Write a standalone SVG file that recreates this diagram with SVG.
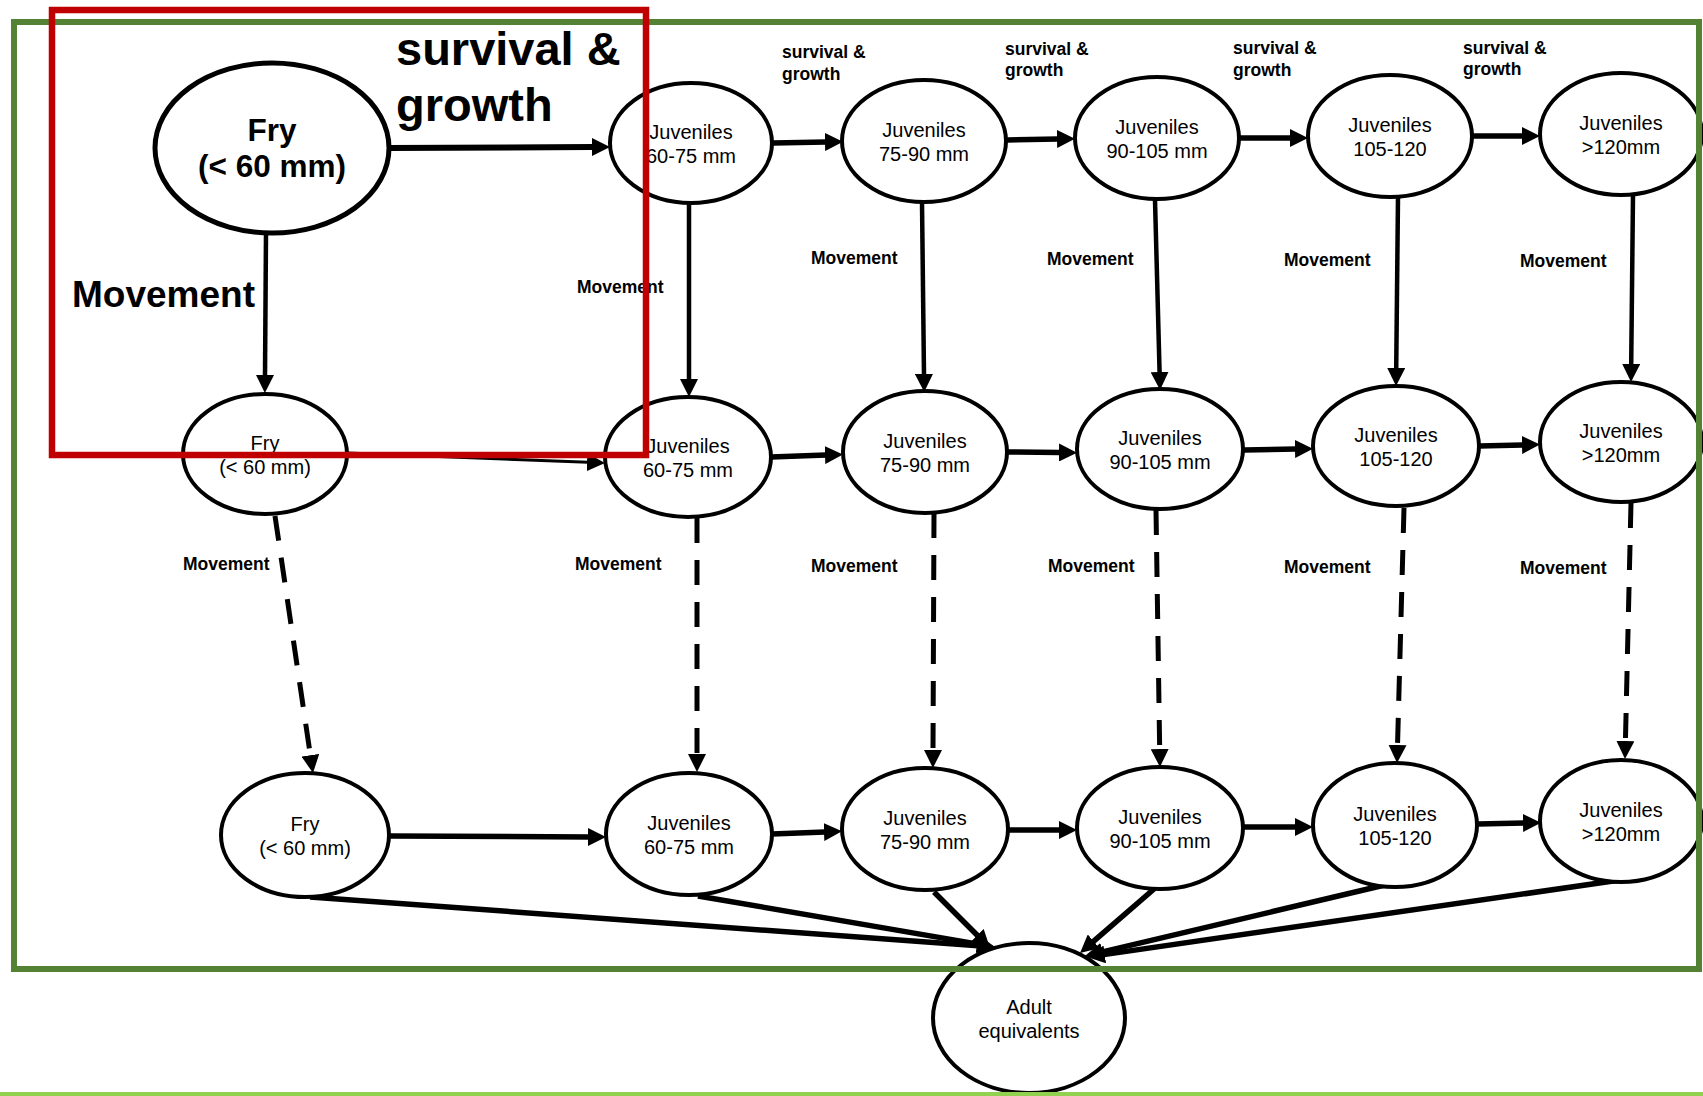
<svg xmlns="http://www.w3.org/2000/svg" width="1703" height="1096" viewBox="0 0 1703 1096">
<style>
  .node ellipse { fill: #fff; stroke: #000; stroke-width: 4; }
  .node text { font-family: "Liberation Sans", Arial, sans-serif; font-size: 20px; text-anchor: middle; fill: #000; }
  .lbl { font-family: "Liberation Sans", Arial, sans-serif; font-weight: bold; font-size: 17.5px; fill: #000; }
  .big { font-family: "Liberation Sans", Arial, sans-serif; font-weight: bold; fill: #000; }
  #connectors line { stroke: #000; fill: none; marker-end: url(#ah); }
  .flow { stroke-width: 5.5; }
  .wide { stroke-width: 6; }
  .thin { stroke-width: 3; }
  .move { stroke-width: 4.5; }
  .dash { stroke-width: 5; stroke-dasharray: 25 17; }
  .frame { fill: none; }
</style>
<defs>
  <marker id="ah" viewBox="0 0 18 18" refX="1" refY="9" markerWidth="18" markerHeight="18" markerUnits="userSpaceOnUse" orient="auto">
    <path d="M0,0 L18,9 L0,18 Z" fill="#000"/>
  </marker>
</defs>
<rect width="1703" height="1096" fill="#fff"/>

<!-- arrows between life stages -->
<g id="connectors">
  <!-- survival & growth, top row -->
  <line class="wide" x1="388" y1="148" x2="593" y2="147"/>
  <line class="flow" x1="773" y1="143" x2="826" y2="142"/>
  <line class="flow" x1="1007" y1="140" x2="1058" y2="139"/>
  <line class="flow" x1="1240" y1="138" x2="1291" y2="138"/>
  <line class="flow" x1="1473" y1="136" x2="1523" y2="136"/>
  <!-- survival & growth, middle row -->
  <line class="thin" x1="347" y1="453" x2="588" y2="462.3"/>
  <line class="flow" x1="771" y1="457" x2="826" y2="455"/>
  <line class="flow" x1="1008" y1="452" x2="1060" y2="452.5"/>
  <line class="flow" x1="1244" y1="450" x2="1296" y2="449"/>
  <line class="flow" x1="1479" y1="446" x2="1523" y2="445"/>
  <!-- survival & growth, bottom row -->
  <line class="flow" x1="389" y1="836" x2="589" y2="837"/>
  <line class="flow" x1="772" y1="834" x2="825" y2="832"/>
  <line class="flow" x1="1008" y1="830" x2="1060" y2="830"/>
  <line class="flow" x1="1243" y1="827" x2="1296" y2="827"/>
  <line class="flow" x1="1478" y1="824" x2="1524" y2="823"/>
  <!-- movement, top to middle -->
  <line class="move" x1="266" y1="233" x2="265" y2="376"/>
  <line class="move" x1="689" y1="203" x2="689" y2="380"/>
  <line class="move" x1="922" y1="202" x2="924" y2="375"/>
  <line class="move" x1="1155" y1="200" x2="1159.6" y2="373"/>
  <line class="move" x1="1398" y1="197" x2="1396.2" y2="369"/>
  <line class="move" x1="1633" y1="195" x2="1631.2" y2="365"/>
  <!-- movement, middle to bottom -->
  <line class="dash" x1="275" y1="516" x2="310.5" y2="756.2"/>
  <line class="dash" x1="697" y1="518" x2="697" y2="755"/>
  <line class="dash" x1="934" y1="513" x2="933" y2="751"/>
  <line class="dash" x1="1156" y1="510" x2="1159.7" y2="750"/>
  <line class="dash" x1="1404" y1="508" x2="1397.5" y2="746"/>
  <line class="dash" x1="1631" y1="503" x2="1625.4" y2="742"/>
  <!-- into adult equivalents -->
  <line class="flow" x1="310" y1="897" x2="978" y2="945.8"/>
  <line class="flow" x1="698" y1="896" x2="978.2" y2="944.1"/>
  <line class="flow" x1="934" y1="892" x2="978" y2="936"/>
  <line class="flow" x1="1154" y1="889" x2="1092.9" y2="941.9"/>
  <line class="flow" x1="1389" y1="884" x2="1101.5" y2="952.1"/>
  <line class="flow" x1="1620" y1="880" x2="1103.8" y2="954.6"/>
</g>

<!-- top row -->
<g id="fry-top" class="node">
  <ellipse cx="272" cy="148" rx="117" ry="85" style="stroke-width:5"/>
  <text x="272" y="141" style="font-size:31.5px;font-weight:bold">Fry</text>
  <text x="272" y="177" style="font-size:31.5px;font-weight:bold">(&lt; 60 mm)</text>
</g>
<g id="j60-top" class="node">
  <ellipse cx="691" cy="143" rx="81" ry="60"/>
  <text x="691" y="139">Juveniles</text><text x="691" y="163">60-75 mm</text>
</g>
<g id="j75-top" class="node">
  <ellipse cx="924" cy="141" rx="82" ry="61"/>
  <text x="924" y="137">Juveniles</text><text x="924" y="161">75-90 mm</text>
</g>
<g id="j90-top" class="node">
  <ellipse cx="1157" cy="138" rx="82" ry="61"/>
  <text x="1157" y="134">Juveniles</text><text x="1157" y="158">90-105 mm</text>
</g>
<g id="j105-top" class="node">
  <ellipse cx="1390" cy="136" rx="82" ry="61"/>
  <text x="1390" y="132">Juveniles</text><text x="1390" y="156">105-120</text>
</g>
<g id="j120-top" class="node">
  <ellipse cx="1621" cy="134" rx="81" ry="61"/>
  <text x="1621" y="130">Juveniles</text><text x="1621" y="154">&gt;120mm</text>
</g>

<!-- middle row -->
<g id="fry-mid" class="node">
  <ellipse cx="265" cy="454" rx="82" ry="60"/>
  <text x="265" y="450">Fry</text><text x="265" y="474">(&lt; 60 mm)</text>
</g>
<g id="j60-mid" class="node">
  <ellipse cx="688" cy="457" rx="83" ry="60"/>
  <text x="688" y="453">Juveniles</text><text x="688" y="477">60-75 mm</text>
</g>
<g id="j75-mid" class="node">
  <ellipse cx="925" cy="452" rx="82" ry="61"/>
  <text x="925" y="448">Juveniles</text><text x="925" y="472">75-90 mm</text>
</g>
<g id="j90-mid" class="node">
  <ellipse cx="1160" cy="449" rx="83" ry="60"/>
  <text x="1160" y="445">Juveniles</text><text x="1160" y="469">90-105 mm</text>
</g>
<g id="j105-mid" class="node">
  <ellipse cx="1396" cy="446" rx="83" ry="60"/>
  <text x="1396" y="442">Juveniles</text><text x="1396" y="466">105-120</text>
</g>
<g id="j120-mid" class="node">
  <ellipse cx="1621" cy="442" rx="81" ry="60"/>
  <text x="1621" y="438">Juveniles</text><text x="1621" y="462">&gt;120mm</text>
</g>

<!-- bottom row -->
<g id="fry-bot" class="node">
  <ellipse cx="305" cy="835" rx="84" ry="62"/>
  <text x="305" y="831">Fry</text><text x="305" y="855">(&lt; 60 mm)</text>
</g>
<g id="j60-bot" class="node">
  <ellipse cx="689" cy="834" rx="83" ry="61"/>
  <text x="689" y="830">Juveniles</text><text x="689" y="854">60-75 mm</text>
</g>
<g id="j75-bot" class="node">
  <ellipse cx="925" cy="829" rx="83" ry="61"/>
  <text x="925" y="825">Juveniles</text><text x="925" y="849">75-90 mm</text>
</g>
<g id="j90-bot" class="node">
  <ellipse cx="1160" cy="828" rx="83" ry="61"/>
  <text x="1160" y="824">Juveniles</text><text x="1160" y="848">90-105 mm</text>
</g>
<g id="j105-bot" class="node">
  <ellipse cx="1395" cy="825" rx="82" ry="62"/>
  <text x="1395" y="821">Juveniles</text><text x="1395" y="845">105-120</text>
</g>
<g id="j120-bot" class="node">
  <ellipse cx="1621" cy="821" rx="81" ry="61"/>
  <text x="1621" y="817">Juveniles</text><text x="1621" y="841">&gt;120mm</text>
</g>

<g id="adult" class="node">
  <ellipse cx="1029" cy="1018" rx="96" ry="75"/>
  <text x="1029" y="1014">Adult</text><text x="1029" y="1038">equivalents</text>
</g>

<!-- edge labels -->
<g id="labels">
  <text class="big" style="font-size:47px" x="396" y="65">survival &amp;</text>
  <text class="big" style="font-size:47px" x="396" y="121">growth</text>
  <text class="big" style="font-size:37px" x="72" y="307">Movement</text>

  <text class="lbl" x="782" y="58">survival &amp;</text><text class="lbl" x="782" y="80">growth</text>
  <text class="lbl" x="1005" y="55">survival &amp;</text><text class="lbl" x="1005" y="76">growth</text>
  <text class="lbl" x="1233" y="54">survival &amp;</text><text class="lbl" x="1233" y="76">growth</text>
  <text class="lbl" x="1463" y="54">survival &amp;</text><text class="lbl" x="1463" y="75">growth</text>

  <text class="lbl" x="577" y="293">Movement</text>
  <text class="lbl" x="811" y="264">Movement</text>
  <text class="lbl" x="1047" y="265">Movement</text>
  <text class="lbl" x="1284" y="266">Movement</text>
  <text class="lbl" x="1520" y="267">Movement</text>

  <text class="lbl" x="183" y="570">Movement</text>
  <text class="lbl" x="575" y="570">Movement</text>
  <text class="lbl" x="811" y="572">Movement</text>
  <text class="lbl" x="1048" y="572">Movement</text>
  <text class="lbl" x="1284" y="573">Movement</text>
  <text class="lbl" x="1520" y="574">Movement</text>
</g>

<!-- frames -->
<g id="frames">
  <rect class="frame" x="14" y="22" width="1685" height="947" stroke="#548235" stroke-width="6"/>
  <line x1="0" y1="1094" x2="1703" y2="1094" stroke="#92d050" stroke-width="4"/>
  <rect class="frame" x="52" y="10" width="594" height="445" stroke="#c00000" stroke-width="6.5"/>
</g>
</svg>
